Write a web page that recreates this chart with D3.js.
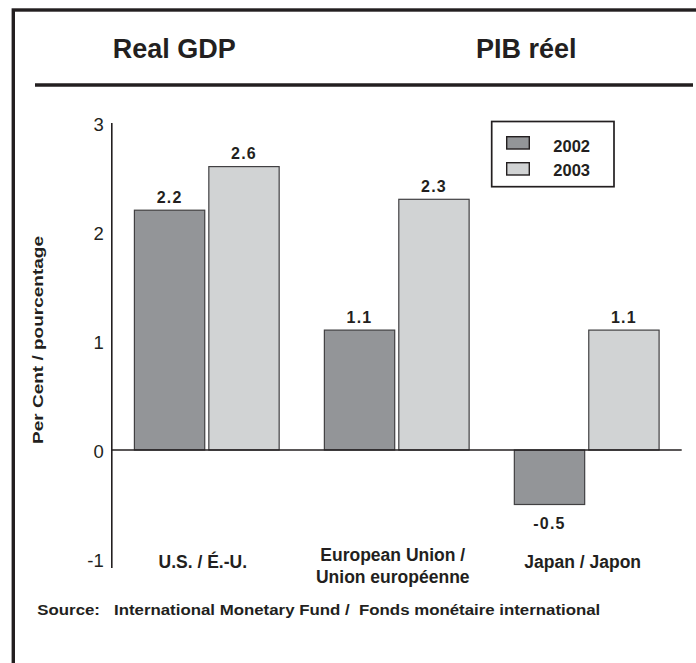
<!DOCTYPE html>
<html>
<head>
<meta charset="utf-8">
<script src="https://cdn.jsdelivr.net/npm/d3@7"></script>
<style>
  html, body { margin: 0; padding: 0; background: #ffffff; }
  svg { display: block; }
  text { font-family: "Liberation Sans", Arial, Helvetica, sans-serif; fill: #231f20; }
</style>
</head>
<body>
<div id="chart"></div>
<script>
// ---- data ----
const categories = ["U.S. / É.-U.", "European Union /\nUnion européenne", "Japan / Japon"];
const seriesNames = ["2002", "2003"];
const values2002 = [2.2, 1.1, -0.5];
const values2003 = [2.6, 2.3, 1.1];
const yTicks = [-1, 0, 1, 2, 3];
const titleLeft = "Real GDP";
const titleRight = "PIB réel";
const yTitle = "Per Cent / pourcentage";
const sourceText = "Source:\u00a0\u00a0\u00a0International Monetary Fund /\u00a0\u00a0Fonds monétaire international";

const seriesValues = [values2002, values2003];
const colors = ["#939598", "#d1d3d4"];

const W = 696, H = 663;
const svg = d3.select("#chart").append("svg").attr("width", W).attr("height", H);

// frame
svg.append("rect")
  .attr("x", 13.3).attr("y", 10)
  .attr("width", W + 20).attr("height", H + 20)
  .attr("fill", "none").attr("stroke", "#231f20").attr("stroke-width", 3.4);

// titles
svg.append("text").attr("x", 112.7).attr("y", 57.7)
  .attr("font-size", 27).attr("font-weight", "bold").text(titleLeft);
svg.append("text").attr("x", 476).attr("y", 57.7)
  .attr("font-size", 27).attr("font-weight", "bold").text(titleRight);
svg.append("line").attr("x1", 35).attr("x2", 693).attr("y1", 85).attr("y2", 85)
  .attr("stroke", "#231f20").attr("stroke-width", 3.4);

// scales
const y = d3.scaleLinear().domain([-1, 3]).range([559, 123]);
const x0 = d3.scaleBand().domain(categories).range([111.8, 681.7])
  .paddingInner(0.238).paddingOuter(0.119);
const x1 = d3.scaleBand().domain(seriesNames).range([0, x0.bandwidth()]).paddingInner(0.055);

// y axis
const yAxis = d3.axisLeft(y).tickValues(yTicks).tickSize(0).tickPadding(8)
  .tickFormat(d => String(d));
const gy = svg.append("g").attr("transform", "translate(111.8,0)").call(yAxis);
gy.select(".domain").remove();
gy.selectAll(".tick text")
  .attr("font-size", 18.5)
  .attr("font-family", "'Liberation Sans', Arial, sans-serif")
  .attr("fill", "#231f20")
  .attr("dy", "0.4em");
svg.append("line").attr("x1", 111.8).attr("x2", 111.8)
  .attr("y1", y(3)).attr("y2", y(-1) + 9)
  .attr("stroke", "#231f20").attr("stroke-width", 1.6);

// bars
const barData = [];
categories.forEach((c, i) => {
  seriesNames.forEach((s, j) => {
    barData.push({ cat: c, series: s, value: seriesValues[j][i], color: colors[j] });
  });
});

svg.append("g").selectAll("rect").data(barData).join("rect")
  .attr("x", d => x0(d.cat) + x1(d.series))
  .attr("width", x1.bandwidth())
  .attr("y", d => y(Math.max(0, d.value)))
  .attr("height", d => Math.abs(y(d.value) - y(0)))
  .attr("fill", d => d.color)
  .attr("stroke", "#414042").attr("stroke-width", 1.2);

// zero line
svg.append("line").attr("x1", 111.8).attr("x2", 681.7)
  .attr("y1", y(0)).attr("y2", y(0))
  .attr("stroke", "#231f20").attr("stroke-width", 1.5);

// value labels
svg.append("g").selectAll("text").data(barData).join("text")
  .attr("x", d => x0(d.cat) + x1(d.series) + x1.bandwidth() / 2)
  .attr("y", d => d.value >= 0 ? y(d.value) - 7.5 : y(d.value) + 24)
  .attr("text-anchor", "middle")
  .attr("font-size", 16).attr("font-weight", "bold")
  .attr("letter-spacing", 1.2)
  .text(d => d.value.toFixed(1));

// category labels
const catG = svg.append("g");
categories.forEach(c => {
  const lines = c.split("\n");
  const cx = x0(c) + x0.bandwidth() / 2 - 4;
  const t = catG.append("text").attr("text-anchor", "middle")
    .attr("font-size", 17.5).attr("font-weight", "bold");
  if (lines.length === 1) {
    t.append("tspan").attr("x", cx).attr("y", 568.3).text(lines[0]);
  } else {
    lines.forEach((l, k) => {
      t.append("tspan").attr("x", cx).attr("y", 560.7 + k * 22.6).text(l);
    });
  }
});

// y title
svg.append("text")
  .attr("transform", "translate(43,340) rotate(-90)")
  .attr("text-anchor", "middle")
  .attr("font-size", 15).attr("font-weight", "bold")
  .attr("textLength", 208).attr("lengthAdjust", "spacingAndGlyphs")
  .text(yTitle);

// legend
const legend = svg.append("g");
legend.append("rect").attr("x", 491.7).attr("y", 121.5).attr("width", 122.3).attr("height", 65.2)
  .attr("fill", "#fff").attr("stroke", "#231f20").attr("stroke-width", 1.7);
seriesNames.forEach((s, j) => {
  legend.append("rect").attr("x", 506.7).attr("y", 136.7 + j * 26)
    .attr("width", 22.6).attr("height", 12.3)
    .attr("fill", colors[j]).attr("stroke", "#231f20").attr("stroke-width", 1.4);
  legend.append("text").attr("x", 553.3).attr("y", 151.5 + j * 24)
    .attr("font-size", 16.5).attr("font-weight", "bold").text(s);
});

// source
svg.append("text").attr("x", 37.3).attr("y", 615)
  .attr("font-size", 14.5).attr("font-weight", "bold")
  .attr("textLength", 563).attr("lengthAdjust", "spacingAndGlyphs")
  .text(sourceText);
</script>
</body>
</html>
